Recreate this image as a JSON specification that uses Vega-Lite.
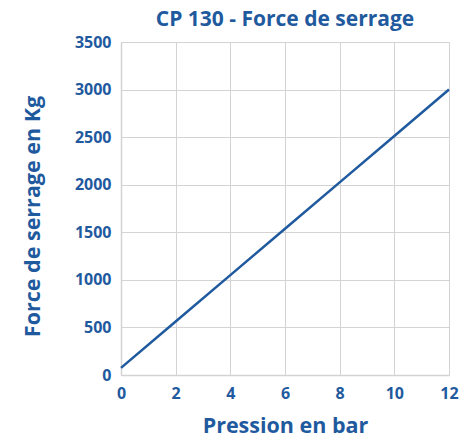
{
  "$schema": "https://vega.github.io/schema/vega-lite/v6.json",
  "width": 328,
  "height": 333,
  "autosize": {"type": "none"},
  "padding": {"left": 121, "top": 42, "right": 26, "bottom": 70},
  "title": {
    "text": "CP 130 - Force de serrage",
    "font": "Open Sans",
    "fontSize": 21,
    "fontWeight": "bold",
    "color": "#1f5a9e",
    "anchor": "middle",
    "offset": 4
  },
  "data": {
    "values": [
      {"pression": 0, "force": 75},
      {"pression": 2, "force": 562},
      {"pression": 4, "force": 1050},
      {"pression": 6, "force": 1537},
      {"pression": 8, "force": 2025},
      {"pression": 10, "force": 2512},
      {"pression": 12, "force": 3000}
    ]
  },
  "mark": {"type": "line", "color": "#1f5a9e", "strokeWidth": 2.5},
  "encoding": {
    "x": {
      "field": "pression",
      "type": "quantitative",
      "scale": {"domain": [0, 12], "nice": false},
      "axis": {"values": [0, 2, 4, 6, 8, 10, 12], "title": "Pression en bar", "titlePadding": 14}
    },
    "y": {
      "field": "force",
      "type": "quantitative",
      "scale": {"domain": [0, 3500], "nice": false},
      "axis": {"values": [0, 500, 1000, 1500, 2000, 2500, 3000, 3500], "format": "d", "title": "Force de serrage en Kg", "titlePadding": 30, "titleY": 174}
    }
  },
  "config": {
    "view": {"stroke": null},
    "axis": {
      "labelFont": "Open Sans",
      "labelFontSize": 16,
      "labelFontWeight": "bold",
      "labelColor": "#1f5a9e",
      "labelPadding": 10,
      "labelFlush": false,
      "titleFont": "Open Sans",
      "titleFontSize": 21.5,
      "titleFontWeight": "bold",
      "titleColor": "#1f5a9e",
      "ticks": false,
      "grid": true,
      "gridColor": "#d3d3d3",
      "gridWidth": 1,
      "domainColor": "#d3d3d3",
      "domainWidth": 1.5
    }
  }
}
